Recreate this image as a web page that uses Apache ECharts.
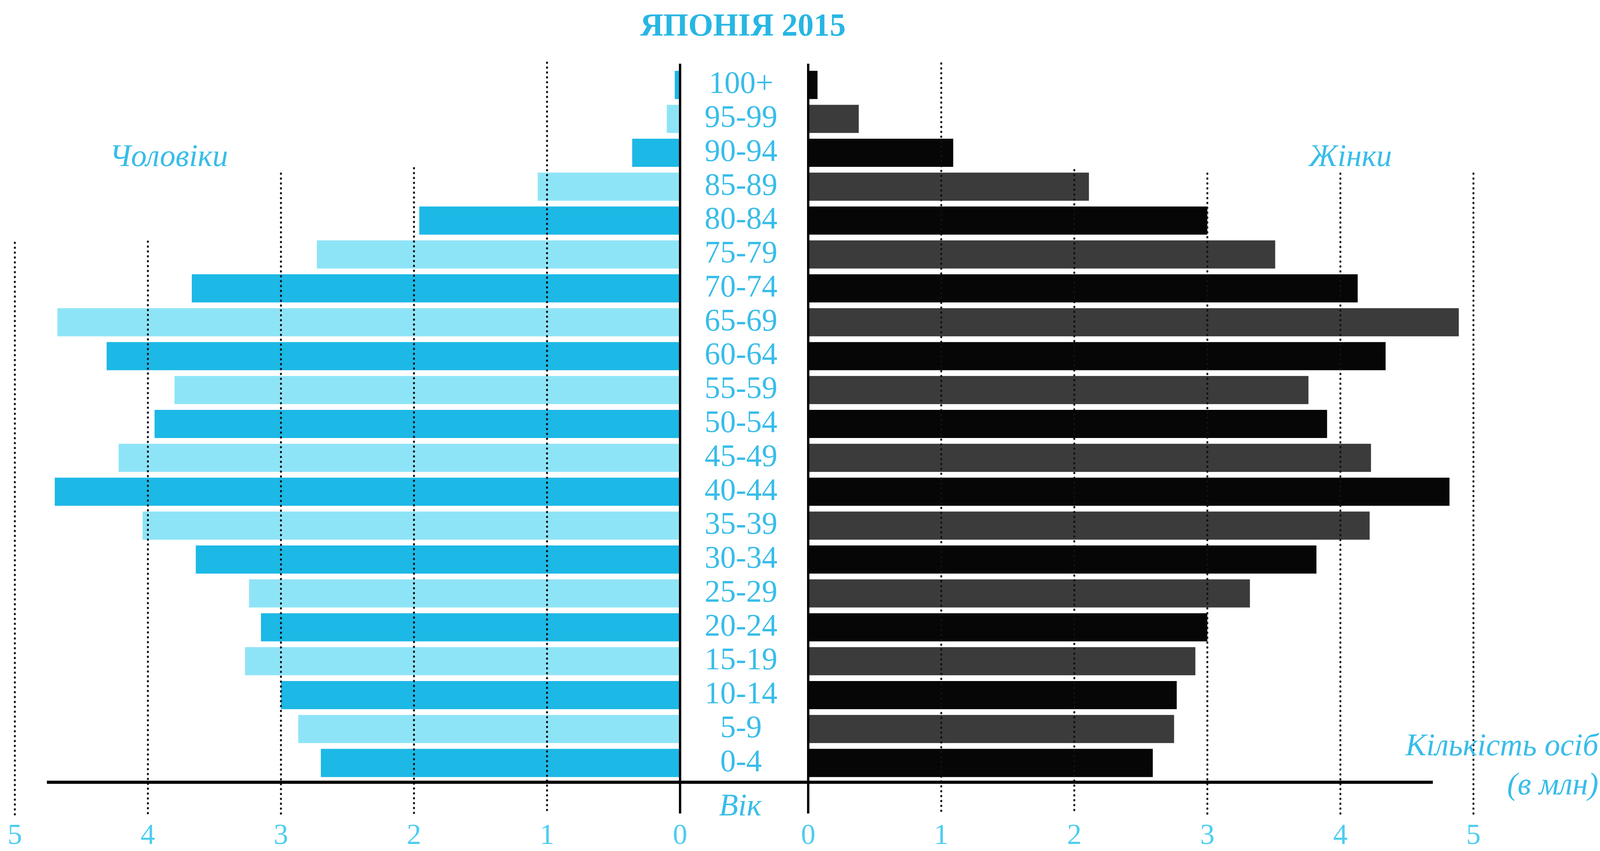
<!DOCTYPE html>
<html>
<head>
<meta charset="utf-8">
<script src="https://cdn.jsdelivr.net/npm/echarts@6/dist/echarts.min.js"></script>
<style>html,body{margin:0;padding:0;background:#fff}#c{width:4144px;height:2178px}</style>
</head>
<body>
<div id="c"></div>
<script>
// ---- data ----
const categories = ['0-4','5-9','10-14','15-19','20-24','25-29','30-34','35-39','40-44','45-49','50-54','55-59','60-64','65-69','70-74','75-79','80-84','85-89','90-94','95-99','100+'];
const maleValues = [2.70, 2.87, 3.00, 3.27, 3.15, 3.24, 3.64, 4.04, 4.70, 4.22, 3.95, 3.80, 4.31, 4.68, 3.67, 2.73, 1.96, 1.07, 0.36, 0.10, 0.04];
const femaleValues = [2.59, 2.75, 2.77, 2.91, 3.00, 3.32, 3.82, 4.22, 4.82, 4.23, 3.90, 3.76, 4.34, 4.89, 4.13, 3.51, 3.00, 2.11, 1.09, 0.38, 0.07];
const axisMin = 0, axisMax = 5, axisStep = 1;
const gridValues = [1, 2, 3, 4, 5];
const titleText = 'ЯПОНІЯ 2015';
const maleLabel = 'Чоловіки';
const femaleLabel = 'Жінки';
const unitLabel1 = 'Кількість осіб';
const unitLabel2 = '(в млн)';
const ageLabel = 'Вік';

// ---- layout / style ----
const GRID_TOP = 174, GRID_H = 1832;
const LEFT_X = 38, RIGHT_X = 2069, GRID_W = 1703;
const GRIDLINE_BOTTOM = 2085;
const LEFT_TOPS = {1: 160, 2: 430, 3: 444, 4: 618, 5: 621};
const RIGHT_TOPS = {1: 162, 2: 435, 3: 444, 4: 444, 5: 444};
const CYAN_DARK = '#1cb8e6', CYAN_LIGHT = '#8ee4f7';
const BLACK = '#060606', GRAY = '#3b3b3b';
const TEXT_CYAN = '#38bde9';
const SERIF = '"Liberation Serif", "DejaVu Serif", serif';
const ITALIC_FONT = 'italic 80px "Liberation Serif", "DejaVu Serif", serif';

const chart = echarts.init(document.getElementById('c'));

function gridlineSeries(idx, tops) {
  return {
    type: 'custom', xAxisIndex: idx, yAxisIndex: idx, silent: true, clip: false, z: 6,
    data: gridValues.map(v => [v, 0]),
    renderItem: function (params, api) {
      const v = api.value(0);
      const x = api.coord([v, 0])[0];
      return {
        type: 'line',
        shape: {x1: x, y1: tops[v], x2: x, y2: GRIDLINE_BOTTOM},
        style: {stroke: '#111', lineWidth: 5, lineCap: 'round', lineDash: [1, 11.5]}
      };
    }
  };
}

const xAxisCommon = {
  type: 'value', min: axisMin, max: axisMax, interval: axisStep,
  axisLine: {show: false}, axisTick: {show: false}, splitLine: {show: false},
  axisLabel: {margin: 145, verticalAlign: 'middle', fontSize: 74, color: '#4ccdf0', fontFamily: SERIF}
};

const option = {
  backgroundColor: '#ffffff',
  animation: false,
  grid: [
    {left: LEFT_X, top: GRID_TOP, width: GRID_W, height: GRID_H},
    {left: RIGHT_X, top: GRID_TOP, width: GRID_W, height: GRID_H}
  ],
  xAxis: [
    Object.assign({gridIndex: 0, inverse: true}, xAxisCommon),
    Object.assign({gridIndex: 1}, xAxisCommon)
  ],
  yAxis: [
    {type: 'category', gridIndex: 0, data: categories, position: 'right',
     axisLine: {show: false}, axisTick: {show: false}, splitLine: {show: false},
     axisLabel: {interval: 0, margin: 156, align: 'center', verticalAlign: 'middle', padding: [16, 0, 0, 0],
                 fontSize: 80, color: TEXT_CYAN, fontFamily: SERIF}},
    {type: 'category', gridIndex: 1, data: categories, show: false}
  ],
  series: [
    {type: 'bar', name: maleLabel, xAxisIndex: 0, yAxisIndex: 0, data: maleValues, barCategoryGap: '17%',
     itemStyle: {color: p => (p.dataIndex % 2 === 0 ? CYAN_DARK : CYAN_LIGHT)}},
    {type: 'bar', name: femaleLabel, xAxisIndex: 1, yAxisIndex: 1, data: femaleValues, barCategoryGap: '17%',
     itemStyle: {color: p => (p.dataIndex % 2 === 0 ? BLACK : GRAY)}},
    gridlineSeries(0, LEFT_TOPS),
    gridlineSeries(1, RIGHT_TOPS)
  ],
  graphic: [
    {type: 'text', x: 1902, y: 70, z: 100, style: {text: titleText, font: 'bold 82px "Liberation Serif", serif', fill: '#27b6e3', align: 'center', verticalAlign: 'middle'}},
    {type: 'text', x: 432, y: 404, z: 100, style: {text: maleLabel, font: ITALIC_FONT, fill: TEXT_CYAN, align: 'center', verticalAlign: 'middle'}},
    {type: 'text', x: 3457, y: 404, z: 100, style: {text: femaleLabel, font: ITALIC_FONT, fill: TEXT_CYAN, align: 'center', verticalAlign: 'middle'}},
    {type: 'text', x: 4092, y: 1912, z: 100, style: {text: unitLabel1, font: ITALIC_FONT, fill: TEXT_CYAN, align: 'right', verticalAlign: 'middle'}},
    {type: 'text', x: 4092, y: 2012, z: 100, style: {text: unitLabel2, font: ITALIC_FONT, fill: TEXT_CYAN, align: 'right', verticalAlign: 'middle'}},
    {type: 'text', x: 1895, y: 2066, z: 100, style: {text: ageLabel, font: ITALIC_FONT, fill: TEXT_CYAN, align: 'center', verticalAlign: 'middle'}},
    {type: 'line', z: 100, shape: {x1: 120, y1: 2002, x2: 3668, y2: 2002}, style: {stroke: '#000', lineWidth: 8}},
    {type: 'line', z: 100, shape: {x1: 1741, y1: 163, x2: 1741, y2: 2082}, style: {stroke: '#000', lineWidth: 6}},
    {type: 'line', z: 100, shape: {x1: 2069, y1: 163, x2: 2069, y2: 2082}, style: {stroke: '#000', lineWidth: 6}}
  ]
};
chart.setOption(option);
</script>
</body>
</html>
